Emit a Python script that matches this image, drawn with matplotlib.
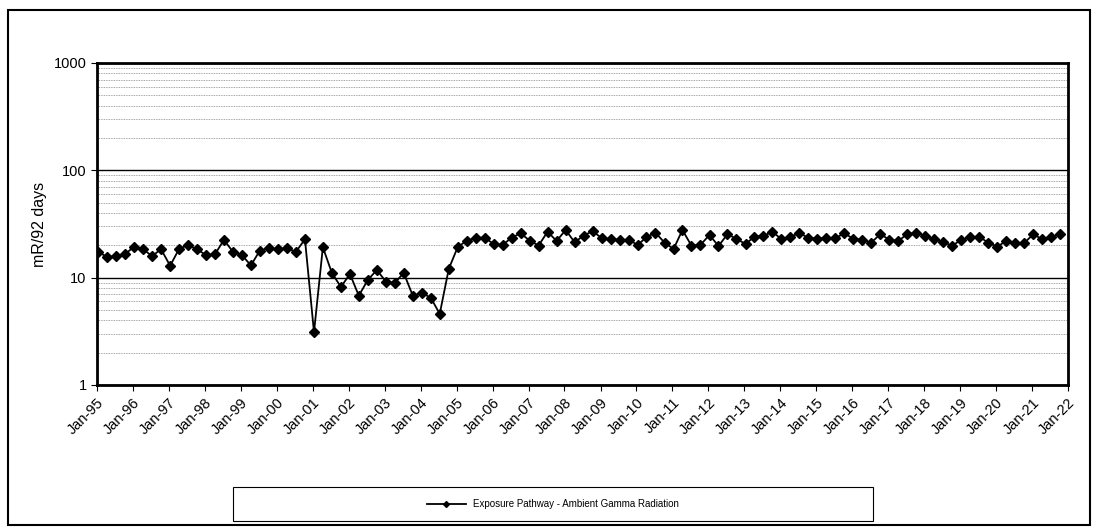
import numpy as np
import pandas as pd
import matplotlib
matplotlib.use('Agg')
import matplotlib.pyplot as plt
import matplotlib.dates as mdates
from matplotlib.ticker import LogLocator, FixedFormatter, FixedLocator
from matplotlib.patches import Rectangle

# quarterly readings, Jan-95 .. Oct-21
dates = pd.date_range('1995-01-01', periods=108, freq='QS') + pd.Timedelta(days=12)
exposure = [
    17.5, 15.5, 15.9, 16.6, 19.4, 18.4, 15.9, 18.4, 12.9, 18.5, 20.2, 18.4, 16.2, 16.5,
    22.5, 17.4, 16.2, 13.0, 17.9, 18.8, 18.4, 18.8, 17.4, 22.8, 3.1, 19.2, 11.1,
    8.2, 10.8, 6.8, 9.5, 11.8, 9.2, 8.9, 11.1, 6.8, 7.2, 6.5, 4.6, 12.1, 19.4, 22.0,
    23.6, 23.6, 20.5, 20.2, 23.6, 25.9, 22.1, 19.9, 26.8, 22.0, 27.8,
    21.4, 24.6, 27.2, 23.3, 22.8, 22.5, 22.5, 20.2, 23.8, 26.3, 21.2, 18.5, 27.8, 19.9,
    20.2, 25.0, 19.7, 25.4, 23.0, 20.6, 24.1, 24.5, 26.8, 22.8, 24.1, 25.9, 23.6, 23.0,
    23.6, 23.3, 25.9, 23.0, 22.5, 21.2, 25.5, 22.5, 22.0, 25.4, 26.3, 24.5, 22.8, 21.4,
    19.9, 22.5, 23.8, 24.1, 21.2, 19.4, 22.0, 21.0, 21.0, 25.4, 22.8, 23.8, 25.5,
]
series_label = 'Exposure Pathway - Ambient Gamma Radiation'
y_ticks = [1, 10, 100, 1000]
y_ticklabels = ['1', '10', '100', '1000']

plt.rcParams['font.family'] = ['Liberation Sans', 'DejaVu Sans']

fig = plt.figure(figsize=(11.04, 5.31), dpi=100)
ax = fig.add_axes([97 / 1104, 1 - 385 / 531, (1068 - 97) / 1104, (385 - 63) / 531])

ax.plot(dates, exposure, '-D', color='black', markersize=5, linewidth=1.3,
        label=series_label, zorder=3)

ax.set_yscale('log')
ax.set_ylim(1, 1000)
ax.yaxis.set_major_locator(FixedLocator(y_ticks))
ax.yaxis.set_major_formatter(FixedFormatter(y_ticklabels))
ax.yaxis.set_minor_locator(LogLocator(base=10, subs=np.arange(2, 10)))
ax.yaxis.set_minor_formatter(FixedFormatter([]))
ax.grid(which='major', axis='y', color='black', linewidth=1.0)
ax.grid(which='minor', axis='y', color='#888888', linewidth=0.6, linestyle=(0, (1, 1)))
ax.tick_params(axis='y', which='minor', length=0)

ax.set_xlim(pd.Timestamp('1995-01-01'), pd.Timestamp('2022-01-01'))
ax.xaxis.set_major_locator(mdates.YearLocator(1, month=1, day=1))
ax.xaxis.set_major_formatter(mdates.DateFormatter('%b-%y'))
plt.setp(ax.get_xticklabels(), rotation=45, ha='right', rotation_mode='anchor')
ax.tick_params(axis='x', labelsize=10.5, length=4, direction='out')
ax.tick_params(axis='y', labelsize=10.5, length=4, direction='out')

for s in ax.spines.values():
    s.set_linewidth(2)
ax.set_ylabel('mR/92 days', fontsize=11.5, labelpad=5)

# legend box
lx0, ly0, lw, lh = 233 / 1104, 1 - 521 / 531, 640 / 1104, 34 / 531
fig.patches.append(Rectangle((lx0, ly0), lw, lh, transform=fig.transFigure,
                             fill=False, edgecolor='black', linewidth=0.8))
leg = fig.legend(loc='center', bbox_to_anchor=(lx0, ly0, lw, lh),
                 fontsize=7, frameon=False, handlelength=4, markerscale=0.6)

# outer chart border
fig.patches.append(Rectangle((8 / 1104, 1 - 525 / 531), (1090 - 8) / 1104, (525 - 10) / 531,
                             transform=fig.transFigure, fill=False, edgecolor='black', linewidth=1.5))

fig.savefig('out.png', dpi=100)
